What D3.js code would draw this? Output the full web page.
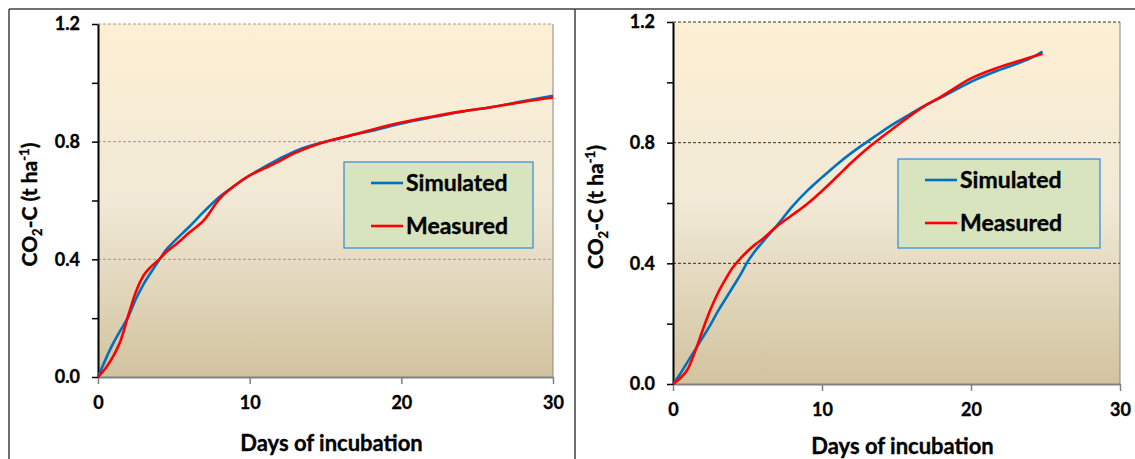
<!DOCTYPE html>
<html>
<head>
<meta charset="utf-8">
<script src="https://cdn.jsdelivr.net/npm/d3@7"></script>
<style>
  body { margin: 0; background: #fff; }
  svg text { font-family: Lato, "Open Sans", sans-serif; font-weight: bold; fill: #000; stroke: #000; stroke-width: 0.35px; }
</style>
</head>
<body>
<div id="chart"></div>
<script>
// data (days, CO2-C in t/ha)
const daysA = [0, 0.5, 1, 1.5, 2, 2.5, 3, 3.5, 4, 4.5, 5, 6, 7, 8, 9, 10, 11, 12, 13, 14, 15, 16, 17, 18, 20, 22, 24, 26, 28, 30];
const simA  = [0, 0.06, 0.114, 0.16, 0.205, 0.265, 0.315, 0.356, 0.395, 0.433, 0.46, 0.51, 0.563, 0.612, 0.65, 0.685, 0.715, 0.743, 0.768, 0.786, 0.80, 0.812, 0.825, 0.836, 0.862, 0.883, 0.902, 0.918, 0.937, 0.956];
const measA = [0, 0.03, 0.07, 0.125, 0.21, 0.29, 0.345, 0.375, 0.398, 0.425, 0.445, 0.49, 0.534, 0.605, 0.65, 0.685, 0.71, 0.735, 0.762, 0.783, 0.80, 0.813, 0.826, 0.84, 0.865, 0.885, 0.903, 0.918, 0.935, 0.95];

const daysB = [0, 0.5, 1, 1.5, 2, 2.5, 3, 3.5, 4, 4.5, 5, 5.5, 6, 7, 8, 9, 10, 11, 12, 13, 14, 15, 16, 17, 18, 20, 22, 24, 24.8];
const simB  = [0, 0.035, 0.075, 0.115, 0.155, 0.195, 0.24, 0.28, 0.32, 0.36, 0.405, 0.44, 0.47, 0.527, 0.588, 0.64, 0.685, 0.728, 0.767, 0.802, 0.836, 0.868, 0.897, 0.925, 0.95, 1.002, 1.043, 1.08, 1.102];
const measB = [0, 0.02, 0.05, 0.11, 0.18, 0.245, 0.3, 0.345, 0.385, 0.415, 0.44, 0.462, 0.48, 0.524, 0.56, 0.597, 0.64, 0.687, 0.735, 0.779, 0.818, 0.855, 0.892, 0.925, 0.953, 1.013, 1.052, 1.083, 1.095];

const xTicks = [0, 10, 20, 30];
const yTicks = [0, 0.2, 0.4, 0.6, 0.8, 1.0, 1.2];
const seriesNames = ["Simulated", "Measured"];
const seriesColors = ["#0070C0", "#FF0000"];

const W = 1135, H = 459;
const svg = d3.select("#chart").append("svg")
  .attr("width", W).attr("height", H);

// background gradient of the plot areas
const grad = svg.append("defs").append("linearGradient")
  .attr("id", "bg").attr("x1", 0).attr("y1", 0).attr("x2", 0).attr("y2", 1);
grad.append("stop").attr("offset", "0%").attr("stop-color", "#FDEFD3");
grad.append("stop").attr("offset", "50%").attr("stop-color", "#F1E9D6");
grad.append("stop").attr("offset", "100%").attr("stop-color", "#D2C39F");

// outer frames
svg.append("line").attr("x1", 9).attr("x2", W).attr("y1", 9).attr("y2", 9)
  .attr("stroke", "#404040").attr("stroke-width", 1.5);
[9, 575].forEach(x => {
  svg.append("line").attr("x1", x).attr("x2", x).attr("y1", 9).attr("y2", H)
    .attr("stroke", "#404040").attr("stroke-width", 1.5);
});

const panels = [
  { days: daysA, sim: simA, meas: measA, left: 98, right: 553, top: 24, bottom: 377,
    grid: "#999", legend: [344, 162, 189, 86], ytitleX: 30, xtitleY: 451 },
  { days: daysB, sim: simB, meas: measB, left: 673, right: 1120, top: 22, bottom: 384,
    grid: "#333", legend: [898, 159, 202, 89], ytitleX: 596, xtitleY: 454 }
];

panels.forEach(p => {
  const x = d3.scaleLinear().domain([0, 30]).range([p.left, p.right]);
  const y = d3.scaleLinear().domain([0, 1.2]).range([p.bottom, p.top]);
  const g = svg.append("g");

  g.append("rect")
    .attr("x", p.left).attr("y", p.top)
    .attr("width", p.right - p.left).attr("height", p.bottom - p.top)
    .attr("fill", "url(#bg)");

  // right edge of plot area
  g.append("line").attr("x1", p.right).attr("x2", p.right)
    .attr("y1", p.top).attr("y2", p.bottom).attr("stroke", "#888").attr("stroke-width", 1);

  // dashed gridlines
  g.selectAll(".grid").data([0.4, 0.8, 1.2]).join("line")
    .attr("x1", p.left).attr("x2", p.right)
    .attr("y1", d => y(d)).attr("y2", d => y(d))
    .attr("stroke", p.grid).attr("stroke-width", 1)
    .attr("stroke-dasharray", "3,2");

  // x axis
  const xa = g.append("g")
    .attr("transform", `translate(0,${p.bottom})`)
    .call(d3.axisBottom(x).tickValues(xTicks).tickSize(7).tickPadding(12).tickSizeOuter(0));
  xa.select(".domain").attr("stroke", "#808080").attr("stroke-width", 2);
  xa.selectAll(".tick line").attr("stroke", "#808080").attr("stroke-width", 1.5);
  xa.selectAll("text").style("font-size", "18px");

  // y axis
  const ya = g.append("g")
    .attr("transform", `translate(${p.left},0)`)
    .call(d3.axisLeft(y).tickValues(yTicks).tickSize(6).tickPadding(12).tickSizeOuter(0)
      .tickFormat(d => (Math.round(d * 10) % 4 === 0) ? d3.format(".1f")(d) : ""));
  ya.select(".domain").attr("stroke", "#000").attr("stroke-width", 2);
  ya.selectAll(".tick line").attr("stroke", "#000").attr("stroke-width", 1.5);
  ya.selectAll("text").style("font-size", "18px");

  // series
  const line = d3.line().x((d, i) => x(p.days[i])).y(d => y(d)).curve(d3.curveMonotoneX);
  [p.sim, p.meas].forEach((vals, k) => {
    g.append("path").datum(vals)
      .attr("d", line)
      .attr("fill", "none")
      .attr("stroke", seriesColors[k])
      .attr("stroke-width", 2.6)
      .attr("stroke-linejoin", "round");
  });

  // legend
  const [lx, ly, lw, lh] = p.legend;
  g.append("rect").attr("x", lx).attr("y", ly).attr("width", lw).attr("height", lh)
    .attr("fill", "#D7E4BD").attr("stroke", "#2E8BD6").attr("stroke-width", 1.2);
  seriesNames.forEach((name, k) => {
    const yy = ly + 21 + k * 43;
    g.append("line").attr("x1", lx + 27).attr("x2", lx + 59)
      .attr("y1", yy).attr("y2", yy)
      .attr("stroke", seriesColors[k]).attr("stroke-width", 2.6);
    g.append("text").attr("x", lx + 62).attr("y", yy)
      .attr("dy", "0.35em").style("font-size", "23px").text(name);
  });

  // axis titles
  g.append("text")
    .attr("x", (p.left + p.right) / 2 + 6).attr("y", p.xtitleY)
    .attr("text-anchor", "middle").style("font-size", "22px")
    .text("Days of incubation");

  const yt = g.append("text")
    .attr("transform", `translate(${p.ytitleX},${(p.top + p.bottom) / 2 + 4}) rotate(-90)`)
    .attr("text-anchor", "middle").attr("dy", "0.35em").style("font-size", "21px");
  yt.append("tspan").text("CO");
  yt.append("tspan").attr("dy", 5).style("font-size", "13px").text("2");
  yt.append("tspan").attr("dy", -5).text("-C (t ha");
  yt.append("tspan").attr("dy", -8).style("font-size", "13px").text("-1");
  yt.append("tspan").attr("dy", 8).text(")");
});
</script>
</body>
</html>
